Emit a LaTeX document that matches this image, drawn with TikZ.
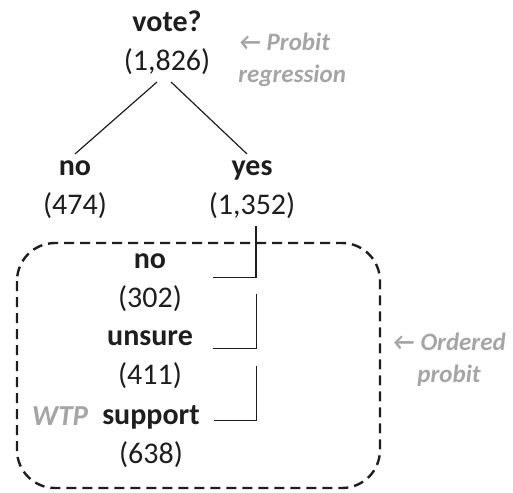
\documentclass[tikz,border=0pt]{standalone}
\usepackage{fontspec}
\setmainfont{Carlito}
\usepackage{tikz}
\usetikzlibrary{positioning}
\definecolor{notegray}{RGB}{165,165,165}
\definecolor{inkcolor}{RGB}{30,30,30}

\begin{document}
\begin{tikzpicture}[x=0.5pt,y=-0.5pt,
    count/.style={align=center,text=inkcolor,font=\fontsize{15}{19.5}\selectfont},
    wtpcount/.style={count,minimum width=63pt},
    note/.style={align=center,text=notegray,inner sep=0pt,
        font=\fontsize{12.5}{16}\selectfont\bfseries\itshape},
    link/.style={draw=inkcolor,line width=0.6pt},
    dashbox/.style={draw=inkcolor,line width=1.2pt,dash pattern=on 5pt off 3pt,
        rounded corners=19pt}]
    \useasboundingbox (0,0) rectangle (513,492);

    \node [count] (vote) at (167,43) {\textbf{vote?}\\(1,826)};
    \node [count] (no1) at (75,190) {\textbf{no}\\(474)};
    \node [count] (yes) at (252,190) {\textbf{yes}\\(1,352)};
    \node [note,align=left,anchor=west] (probit) at (238,60) {← Probit\\regression};

    \draw [link] ([xshift=-5pt]vote.south) -- (no1.north);
    \draw [link] ([xshift=2pt]vote.south) -- ([xshift=-2.5pt]yes.north);

    \draw [dashbox] (17,243) rectangle (380,488);
    \node [wtpcount] (wno) at (150,282.5) {\textbf{no}\\(302)};
    \node [wtpcount] (wunsure) at (150,359.5) {\textbf{unsure}\\(411)};
    \node [wtpcount] (wsupport) at (151,437) {\textbf{support}\\(638)};
    \node [note,font=\fontsize{14.5}{16}\selectfont\bfseries\itshape] (wtp) at (60,416) {WTP};
    \node [note] (ordered) at (449,360) {← Ordered\\probit};

    \draw [link] ([xshift=2pt]yes.south) |- ([shift={(0,-5)}]wno.east);
    \draw [link] ([shift={(43,11)}]wno.east) |- ([shift={(0,-11)}]wunsure.east);
    \draw [link] ([shift={(43,6)}]wunsure.east) |- ([shift={(0,-16.5)}]wsupport.east);
\end{tikzpicture}
\end{document}
